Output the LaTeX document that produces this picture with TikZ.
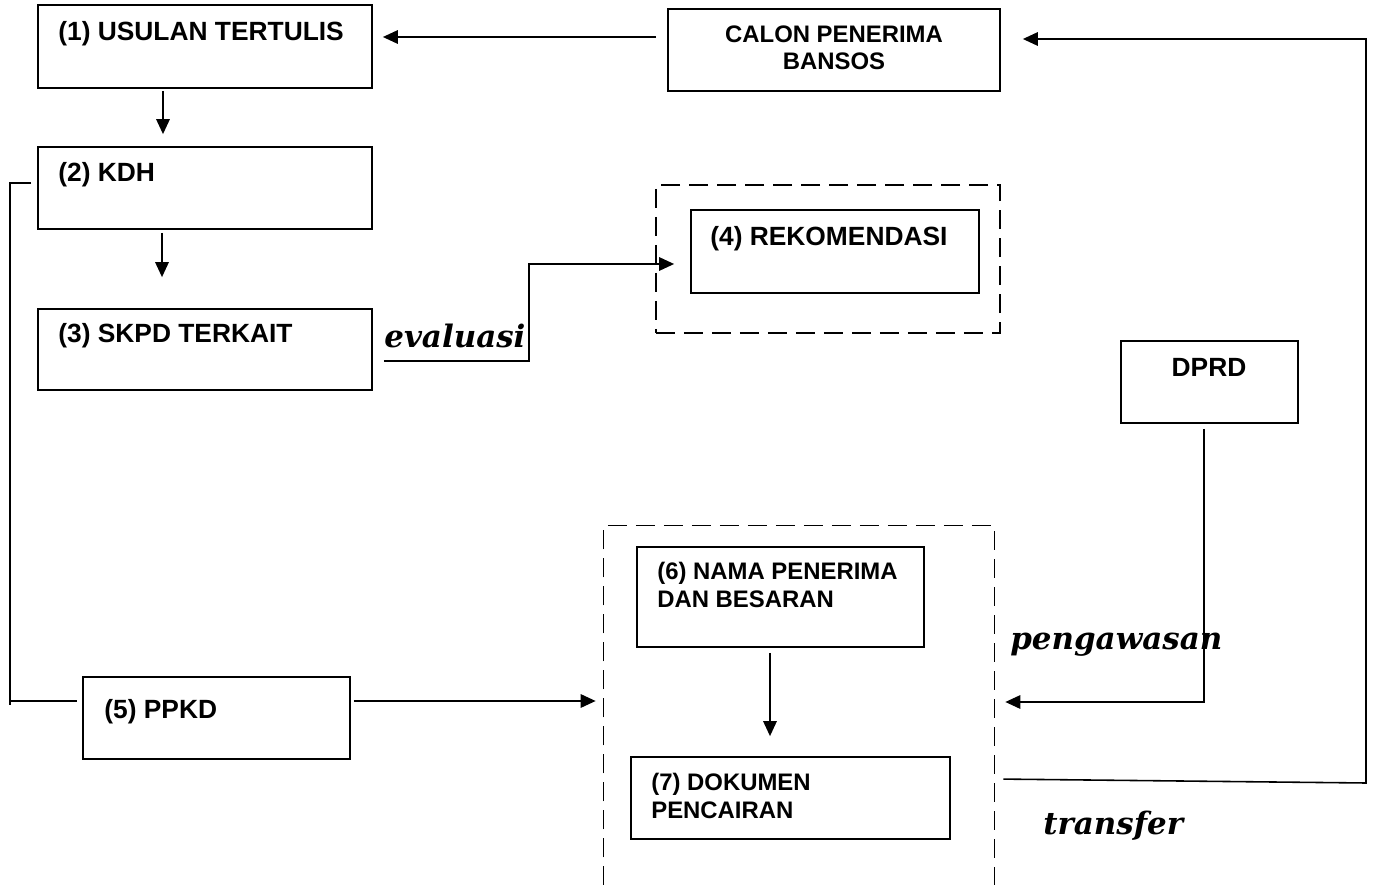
\documentclass[tikz,border=0pt]{standalone}
\usepackage{fontspec}
\usepackage{tikz}
\usetikzlibrary{arrows.meta,fit}
\newfontfamily\boxfont{Liberation Sans}
\newfontfamily\labfont{DejaVu Serif}

\begin{document}
\begin{tikzpicture}[x=0.02cm,y=-0.02cm,
	box/.style={draw,line width=1pt,inner sep=0pt},
	grp/.style={draw,dash pattern=on 0.38cm off 0.18cm,line width=0.9pt,inner sep=0pt},
	big/.style={inner sep=0pt,font=\boxfont\bfseries\fontsize{15}{18}\selectfont},
	small/.style={inner sep=0pt,align=left,font=\boxfont\bfseries\fontsize{13.6}{15.9}\selectfont},
	ital/.style={inner sep=0pt,font=\labfont\bfseries\itshape\fontsize{17.6}{20}\selectfont},
	line/.style={line width=0.9pt},
	arr/.style={line width=0.9pt,-{Triangle[length=0.3cm,width=0.27cm]}}]

\useasboundingbox (0,0) rectangle (1374,885);

% boxes
\node[box,fit={(38,5) (372,88)}] (usulan) {};
\node[box,fit={(668,9) (1000,91)}] (calon) {};
\node[box,fit={(38,147) (372,229)}] (kdh) {};
\node[box,fit={(38,309) (372,390)}] (skpd) {};
\node[grp,fit={(656,185) (1000,333)}] (rekgrp) {};
\node[box,fit={(691,210) (979,293)}] (rek) {};
\node[box,fit={(1121,341) (1298,423)}] (dprd) {};
\node[box,fit={(83,677) (350,759)}] (ppkd) {};
\node[inner sep=0pt,fit={(604,526) (994,885)}] (cair) {};
\node[box,fit={(637,547) (924,647)}] (nama) {};
\node[box,fit={(631,757) (950,839)}] (dok) {};
\draw[grp] (cair.south west) -- (cair.north west) -- (cair.north east) -- (cair.south east);

% texts
\node[big,anchor=base west] (usulanT) at (58,41) {(1) USULAN TERTULIS};
\node[small,anchor=north,align=center] (calonT) at (834,25) {CALON PENERIMA\\BANSOS};
\node[big,anchor=base west] (kdhT) at (58,182) {(2) KDH};
\node[big,anchor=base west] (skpdT) at (58,343) {(3) SKPD TERKAIT};
\node[big,anchor=base west] (rekT) at (710,246) {(4) REKOMENDASI};
\node[big,anchor=base] (dprdT) at (1209,377) {DPRD};
\node[big,anchor=base west] (ppkdT) at (104,718) {(5) PPKD};
\node[small,anchor=north west] (namaT) at (657,562) {(6) NAMA PENERIMA\\DAN BESARAN};
\node[small,anchor=north west] (dokT) at (651,773) {(7) DOKUMEN\\PENCAIRAN};

\node[ital,anchor=base west] (evalT) at (384,348) {evaluasi};
\node[ital,anchor=base west] (awasT) at (1010,649) {pengawasan};
\node[ital,anchor=base west] (trfT) at (1043,834) {transfer};

% connectors
\draw[arr,shorten <=0.22cm,shorten >=0.2cm] (calon.west |- 0,37) -- (usulan.east |- 0,37);
\draw[arr,shorten <=0.04cm,shorten >=0.24cm] (usulan.south -| 163,0) -- (kdh.north -| 163,0);
\draw[arr,shorten <=0.06cm,shorten >=0.62cm] (kdh.south -| 162,0) -- (skpd.north -| 162,0);
\draw[arr,shorten <=0.22cm,shorten >=0.32cm] (skpd.east |- 0,361) -| (529,264) -- (rek.west |- 0,264);
\draw[line,shorten <=0.12cm] (kdh.west |- 0,183) -| (10,705);
\draw[line,shorten >=0.1cm] (10,701) -- (ppkd.west |- 0,701);
\draw[arr,shorten <=0.06cm,shorten >=0.16cm] (ppkd.east |- 0,701) -- (cair.west |- 0,701);
\draw[arr,shorten <=0.1cm,shorten >=0.4cm] (nama.south -| 770,0) -- (dok.north -| 770,0);
\draw[arr,shorten <=0.1cm,shorten >=0.22cm] (dprd.south -| 1204,0) |- (cair.east |- 0,702);
\draw[arr,shorten <=0.18cm,shorten >=0.44cm] (cair.east |- 0,779) -- (1366,783) |- (calon.east |- 0,39);
\end{tikzpicture}
\end{document}
